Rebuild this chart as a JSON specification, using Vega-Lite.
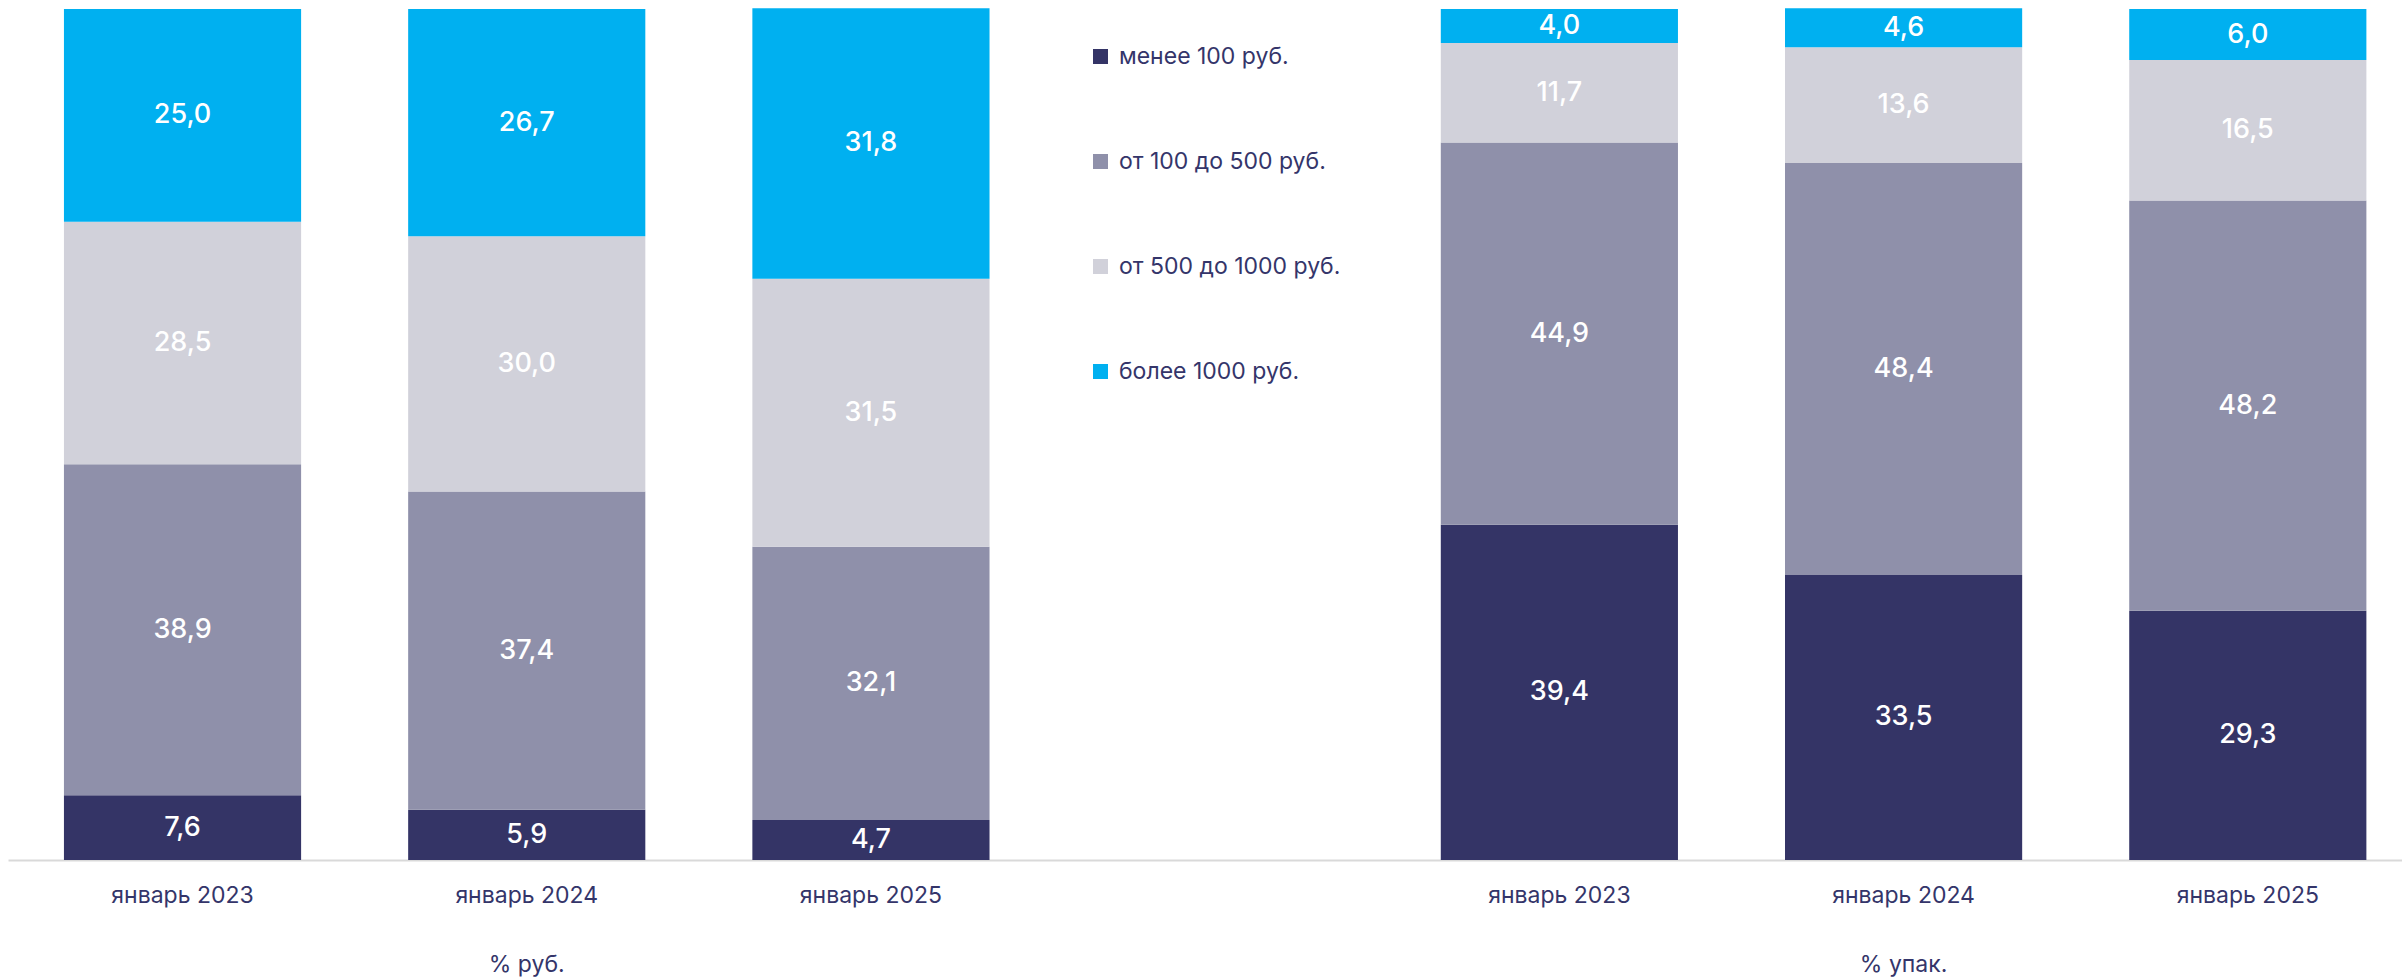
{
  "$schema": "https://vega.github.io/schema/vega-lite/v6.json",
  "width": 2394,
  "height": 851,
  "autosize": {"type": "none"},
  "padding": {"left": 8, "top": 9, "right": 0, "bottom": 119},
  "background": "white",
  "config": {
    "view": {"stroke": null},
    "font": "Inter",
    "locale": {"number": {"decimal": ",", "thousands": " ", "grouping": [3], "currency": ["", ""]}}
  },
  "data": {
    "values": [
      {"slot": "r23", "cat": "менее 100 руб.", "ord": 1, "value": 7.6},
      {"slot": "r23", "cat": "от 100 до 500 руб.", "ord": 2, "value": 38.9},
      {"slot": "r23", "cat": "от 500 до 1000 руб.", "ord": 3, "value": 28.5},
      {"slot": "r23", "cat": "более 1000 руб.", "ord": 4, "value": 25.0},
      {"slot": "r24", "cat": "менее 100 руб.", "ord": 1, "value": 5.9},
      {"slot": "r24", "cat": "от 100 до 500 руб.", "ord": 2, "value": 37.4},
      {"slot": "r24", "cat": "от 500 до 1000 руб.", "ord": 3, "value": 30.0},
      {"slot": "r24", "cat": "более 1000 руб.", "ord": 4, "value": 26.7},
      {"slot": "r25", "cat": "менее 100 руб.", "ord": 1, "value": 4.7},
      {"slot": "r25", "cat": "от 100 до 500 руб.", "ord": 2, "value": 32.1},
      {"slot": "r25", "cat": "от 500 до 1000 руб.", "ord": 3, "value": 31.5},
      {"slot": "r25", "cat": "более 1000 руб.", "ord": 4, "value": 31.8},
      {"slot": "u23", "cat": "менее 100 руб.", "ord": 1, "value": 39.4},
      {"slot": "u23", "cat": "от 100 до 500 руб.", "ord": 2, "value": 44.9},
      {"slot": "u23", "cat": "от 500 до 1000 руб.", "ord": 3, "value": 11.7},
      {"slot": "u23", "cat": "более 1000 руб.", "ord": 4, "value": 4.0},
      {"slot": "u24", "cat": "менее 100 руб.", "ord": 1, "value": 33.5},
      {"slot": "u24", "cat": "от 100 до 500 руб.", "ord": 2, "value": 48.4},
      {"slot": "u24", "cat": "от 500 до 1000 руб.", "ord": 3, "value": 13.6},
      {"slot": "u24", "cat": "более 1000 руб.", "ord": 4, "value": 4.6},
      {"slot": "u25", "cat": "менее 100 руб.", "ord": 1, "value": 29.3},
      {"slot": "u25", "cat": "от 100 до 500 руб.", "ord": 2, "value": 48.2},
      {"slot": "u25", "cat": "от 500 до 1000 руб.", "ord": 3, "value": 16.5},
      {"slot": "u25", "cat": "более 1000 руб.", "ord": 4, "value": 6.0}
    ]
  },
  "transform": [
    {"stack": "value", "groupby": ["slot"], "sort": [{"field": "ord", "order": "ascending"}], "as": ["y0", "y1"]},
    {"calculate": "(datum.y0 + datum.y1) / 2", "as": "ym"}
  ],
  "encoding": {
    "x": {
      "field": "slot",
      "type": "nominal",
      "sort": null,
      "scale": {
        "domain": ["r23", "r24", "r25", "gap", "u23", "u24", "u25"],
        "paddingInner": 0.311,
        "paddingOuter": 0.133,
        "align": 0.611
      },
      "axis": {
        "title": null,
        "labelAngle": 0,
        "ticks": false,
        "grid": false,
        "domainColor": "#d9d9d9",
        "domainWidth": 2,
        "labelFont": "Inter",
        "labelFontSize": 23,
        "labelColor": "#34356a",
        "labelPadding": 24,
        "labelBaseline": "top",
        "labelLineHeight": 69,
        "labelExpr": "datum.value == 'r23' || datum.value == 'u23' ? 'январь 2023' : datum.value == 'r24' ? ['январь 2024', '% руб.'] : datum.value == 'u24' ? ['январь 2024', '% упак.'] : datum.value == 'gap' ? '' : 'январь 2025'"
      }
    }
  },
  "layer": [
    {
      "mark": {"type": "bar"},
      "encoding": {
        "y": {"field": "y1", "type": "quantitative", "scale": {"domain": [0, 100], "nice": false}, "axis": null},
        "y2": {"field": "y0"},
        "color": {
          "field": "cat",
          "type": "nominal",
          "scale": {
            "domain": ["менее 100 руб.", "от 100 до 500 руб.", "от 500 до 1000 руб.", "более 1000 руб."],
            "range": ["#343466", "#8f90aa", "#d1d1da", "#00b0f0"]
          },
          "legend": {
            "title": null,
            "orient": "none",
            "legendX": 1081,
            "legendY": 36,
            "symbolType": "square",
            "symbolSize": 225,
            "symbolStrokeWidth": 0,
            "labelFont": "Inter",
            "labelFontSize": 23,
            "labelColor": "#34356a",
            "labelOffset": 7,
            "rowPadding": 81,
            "labelLimit": 400
          }
        }
      }
    },
    {
      "mark": {"type": "text", "color": "white", "font": "Inter", "fontSize": 27, "fontWeight": 500, "baseline": "middle", "align": "center"},
      "encoding": {
        "y": {"field": "ym", "type": "quantitative"},
        "text": {"field": "value", "type": "quantitative", "format": ".1f"}
      }
    }
  ]
}
